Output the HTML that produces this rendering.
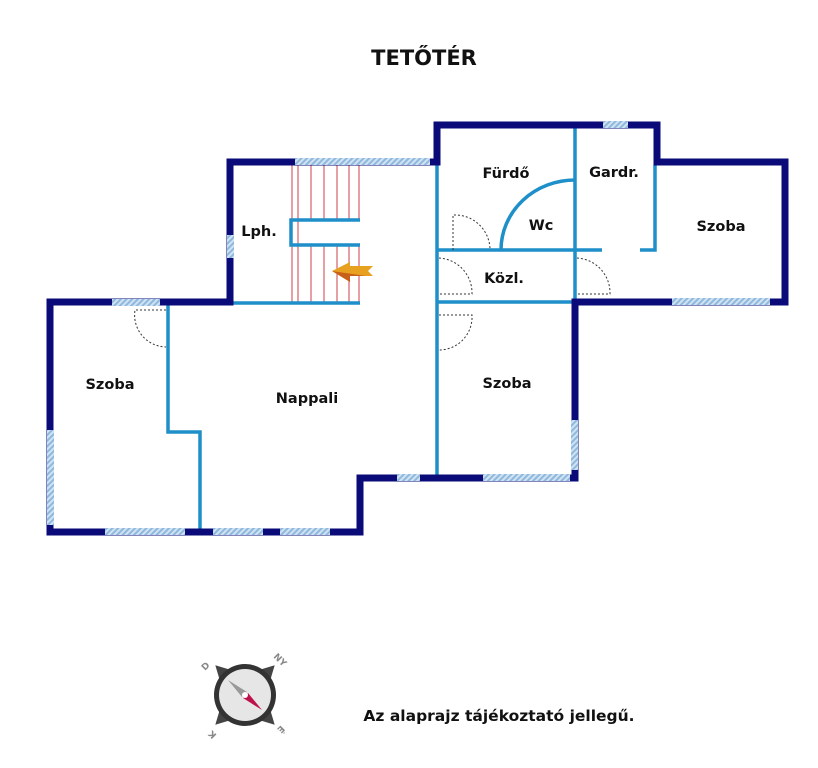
<!DOCTYPE html>
<html><head><meta charset="utf-8"><style>
html,body{margin:0;padding:0;background:#fff;}
svg{display:block;font-family:"DejaVu Sans","Liberation Sans",sans-serif;font-weight:bold;}
</style></head><body>
<svg width="818" height="768" viewBox="0 0 818 768" xmlns="http://www.w3.org/2000/svg">
<defs>
<pattern id="h" width="4" height="4" patternUnits="userSpaceOnUse" patternTransform="rotate(45)">
<rect width="4" height="4" fill="#cfe3f3"/><rect width="2" height="4" fill="#8fb8dc"/></pattern>
</defs>
<text x="424" y="65" text-anchor="middle" font-size="21" fill="#111">TETŐTÉR</text>

<g stroke="#c8404a" stroke-width="1">
<line x1="292" y1="165" x2="292" y2="302"/><line x1="298" y1="165" x2="298" y2="302"/>
<line x1="311" y1="165" x2="311" y2="220"/><line x1="324" y1="165" x2="324" y2="220"/><line x1="337" y1="165" x2="337" y2="220"/><line x1="349" y1="165" x2="349" y2="220"/><line x1="359" y1="165" x2="359" y2="220"/>
<line x1="311" y1="245" x2="311" y2="302"/><line x1="324" y1="245" x2="324" y2="302"/><line x1="337" y1="245" x2="337" y2="302"/><line x1="349" y1="245" x2="349" y2="302"/><line x1="359" y1="245" x2="359" y2="302"/>
</g>

<g stroke="#1e8fc8" stroke-width="3.5" fill="none">
<line x1="437" y1="162" x2="437" y2="478"/>
<line x1="575" y1="125" x2="575" y2="302"/>
<line x1="437" y1="250" x2="602" y2="250"/>
<line x1="437" y1="302" x2="575" y2="302"/>
<polyline points="655,165 655,250 640,250"/>
<path d="M501,250 A74,70 0 0 1 575,180"/>
<polyline points="360,220 291,220 291,245 360,245"/>
<line x1="232" y1="303" x2="360" y2="303"/>
<polyline points="168,305 168,432 200,432 200,532"/>
</g>

<g stroke="#333" stroke-width="1" stroke-dasharray="2,2" fill="none">
<path d="M453,250 V215 A35,35 0 0 1 490,250"/>
<path d="M439,258 A35,35 0 0 1 472,294 H439"/>
<path d="M577,258 A35,35 0 0 1 610,294 H577"/>
<path d="M439,315 H472 A33,33 0 0 1 439,350"/>
<path d="M166,310 H135 A32,32 0 0 0 166,347"/>
</g>

<g stroke="#0a0a78" stroke-width="7" fill="none" stroke-linecap="square">
<polyline points="230,302 50,302 50,532 360,532 360,478 575,478 575,302 785,302 785,162 657,162 657,125 437,125 437,162 230,162 230,302"/>
</g>
<g fill="url(#h)">
<rect x="112" y="299" width="48" height="7"/>
<rect x="47" y="430" width="7" height="95"/>
<rect x="105" y="528" width="80" height="7"/>
<rect x="213" y="528" width="50" height="7"/>
<rect x="280" y="528" width="50" height="7"/>
<rect x="227" y="235" width="7" height="23"/>
<rect x="295" y="158" width="135" height="7"/>
<rect x="603" y="121" width="25" height="7"/>
<rect x="672" y="298" width="98" height="7"/>
<rect x="571" y="420" width="7" height="50"/>
<rect x="483" y="474" width="87" height="7"/>
<rect x="397" y="474" width="23" height="7"/>
</g>

<polygon points="332,271 350,262 350,266 373,266 368,271 373,276 350,276 350,282" fill="#e8a020"/>
<polygon points="332,271 350,282 350,276 366,276" fill="#c8601a"/>

<g font-size="14.5" fill="#111" text-anchor="middle">
<text x="259" y="236">Lph.</text>
<text x="506" y="178">Fürdő</text>
<text x="541" y="230">Wc</text>
<text x="504" y="283">Közl.</text>
<text x="614" y="177">Gardr.</text>
<text x="721" y="231">Szoba</text>
<text x="110" y="389">Szoba</text>
<text x="307" y="403">Nappali</text>
<text x="507" y="388">Szoba</text>
<text x="499" y="721" font-size="15.5">Az alaprajz tájékoztató jellegű.</text>
</g>

<g transform="translate(245,695)">
<polygon points="0,-42 7,-29 -7,-29" fill="#444" transform="rotate(-45)"/>
<polygon points="0,-42 7,-29 -7,-29" fill="#444" transform="rotate(45)"/>
<polygon points="0,-42 7,-29 -7,-29" fill="#444" transform="rotate(135)"/>
<polygon points="0,-42 7,-29 -7,-29" fill="#444" transform="rotate(225)"/>
<circle r="31" fill="#333"/>
<circle r="26" fill="#e6e6e6"/>
<polygon points="-17,-15 2,-3 -3,2" fill="#999"/>
<polygon points="17,15 -2,3 3,-2" fill="#c0104a"/>
<circle r="3" fill="#fff"/>
<g font-size="9" fill="#888">
<text x="28" y="-38" transform="rotate(45 28 -38)">NY</text>
<text x="36" y="30" transform="rotate(135 36 30)">É</text>
<text x="-28" y="40" transform="rotate(225 -28 40)">K</text>
<text x="-40" y="-24" transform="rotate(-45 -40 -24)">D</text>
</g>
</g>
</svg>
</body></html>
